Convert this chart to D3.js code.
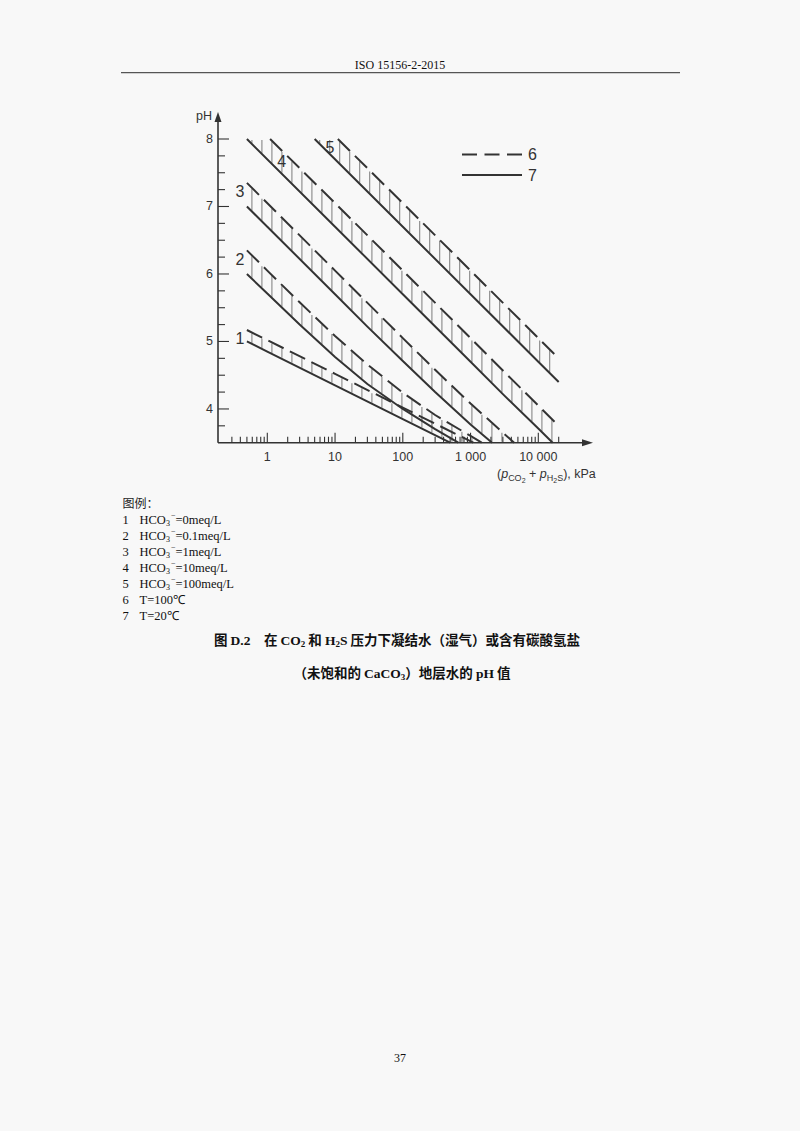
<!DOCTYPE html>
<html><head><meta charset="utf-8">
<script src="https://cdn.jsdelivr.net/npm/d3@7"></script>
<style>
body{margin:0;background:#f8f8f8;}
svg{display:block;}
</style></head><body>
<svg id="c" width="800" height="1131"></svg>
<script>
// ---------- data ----------
const curveIds = ["1", "2", "3", "4", "5"];
// pH at T = 20 °C (solid), points [p kPa, pH]
const solid20 = [
  [[0.5,5.0],[1,4.85],[10,4.35],[100,3.85],[500,3.5]],
  [[0.5,6.0],[1,5.71],[3,5.25],[10,4.77],[30,4.37],[100,4.0],[300,3.7],[660,3.5]],
  [[0.5,7.0],[1,6.7],[10,5.7],[30,5.22],[100,4.71],[300,4.25],[1000,3.77],[2080,3.5]],
  [[0.5,8.0],[10,6.7],[100,5.7],[1000,4.7],[3000,4.22],[10000,3.71],[16300,3.5]],
  [[5,8.0],[100,6.7],[1000,5.7],[10000,4.7],[20000,4.4]]
];
// pH at T = 100 °C (dashed)
const dashed100 = [
  [[0.5,5.17],[10,4.52],[100,4.02],[1100,3.5]],
  [[0.5,6.35],[1,6.05],[3,5.58],[10,5.08],[30,4.66],[100,4.24],[300,3.91],[1000,3.6],[1460,3.5]],
  [[0.5,7.35],[10,6.05],[100,5.05],[300,4.58],[1000,4.08],[3000,3.65],[4400,3.5]],
  [[1.1,8.0],[10,7.05],[100,6.05],[1000,5.05],[3000,4.57],[10000,4.05],[20000,3.75]],
  [[11,8.0],[100,7.05],[1000,6.05],[10000,5.05],[20000,4.75]]
];
const xMajorTicks = [1, 10, 100, 1000, 10000];
const xTickLabels = ["1", "10", "100", "1 000", "10 000"];
const xMinorTicks = [0.3,0.4,0.5,0.6,0.7,0.8,0.9, 2,3,4,5,6,7,8,9, 20,30,40,50,60,70,80,90,
  200,300,400,500,600,700,800,900, 2000,3000,4000,5000,6000,7000,8000,9000, 20000];
const yMajorTicks = [4, 5, 6, 7, 8];
const yMinorTicks = [3.75,4.25,4.5,4.75,5.25,5.5,5.75,6.25,6.5,6.75,7.25,7.5,7.75];
const legendKeys = ["6", "7"];
const legendNotes = [
  ["1", "=0meq/L"], ["2", "=0.1meq/L"], ["3", "=1meq/L"], ["4", "=10meq/L"], ["5", "=100meq/L"]
];
const tempNotes = [["6", "T=100℃"], ["7", "T=20℃"]];

// ---------- drawing ----------
const svg = d3.select("#c");
const ink = "#333";
const sans = "'Liberation Sans', Arial, sans-serif";
const serif = "'Liberation Serif', 'Times New Roman', serif";
const cjk = "'Noto Sans CJK SC', sans-serif";

// header
svg.append("text").attr("x", 400).attr("y", 69).attr("text-anchor", "middle")
  .attr("font-family", serif).attr("font-size", 12).attr("fill", "#111").text("ISO 15156-2-2015");
svg.append("line").attr("x1", 121).attr("x2", 680).attr("y1", 72.7).attr("y2", 72.7)
  .attr("stroke", "#555").attr("stroke-width", 1.3);

const x = d3.scaleLog().domain([1, 10000]).range([267.3, 538.3]);
const y = d3.scaleLinear().domain([3.5, 8]).range([442.7, 139]);
const x0 = 218, yTopAxis = 112, xRightAxis = 593;

const g = svg.append("g");

// hatch rungs
function interp(series, lp) {
  const ls = series.map(d => Math.log10(d[0]));
  if (lp < ls[0] || lp > ls[ls.length - 1]) return null;
  for (let i = 0; i < ls.length - 1; i++) {
    if (lp >= ls[i] && lp <= ls[i + 1]) {
      const t = (lp - ls[i]) / (ls[i + 1] - ls[i]);
      return series[i][1] + t * (series[i + 1][1] - series[i][1]);
    }
  }
  return null;
}
const rungs = g.append("g").attr("stroke", "#8f8f8f").attr("stroke-width", 1.2);
curveIds.forEach((id, i) => {
  const s = solid20[i], d = dashed100[i];
  const xs0 = x(s[0][0]) + 5;
  const xEnd = Math.max(x(s[s.length - 1][0]), x(d[d.length - 1][0])) - 1;
  const dStartL = Math.log10(d[0][0]);
  const sEndL = Math.log10(s[s.length - 1][0]);
  for (let sx = xs0; sx <= xEnd; sx += 10) {
    const lp = Math.log10(x.invert(sx));
    let top = interp(d, lp);
    if (top === null) { if (lp < dStartL) top = 8; else continue; }
    let bot = interp(s, lp);
    if (bot === null) { if (lp > sEndL) bot = 3.5; else continue; }
    top = Math.min(top, 8); bot = Math.max(bot, 3.5);
    if (top - bot < 0.05) continue;
    rungs.append("line").attr("x1", sx).attr("x2", sx)
      .attr("y1", y(top) + 1).attr("y2", y(bot) - 1);
  }
});

// curves
const line = d3.line().x(d => x(d[0])).y(d => y(d[1]));
solid20.forEach(s => g.append("path").attr("d", line(s)).attr("fill", "none")
  .attr("stroke", ink).attr("stroke-width", 2));
dashed100.forEach(s => g.append("path").attr("d", line(s)).attr("fill", "none")
  .attr("stroke", ink).attr("stroke-width", 2).attr("stroke-dasharray", "17,7"));

// curve labels
const lab = (t, px, py) => g.append("text").attr("x", px).attr("y", py).attr("text-anchor", "middle")
  .attr("dominant-baseline", "central").attr("font-family", sans).attr("font-size", 16)
  .attr("fill", ink).text(t);
[0, 1, 2].forEach(i => lab(curveIds[i], x(dashed100[i][0][0]) - 7, y(dashed100[i][0][1]) + 9));
lab(curveIds[3], x(1.63), y(7.66));
lab(curveIds[4], x(8.4), y(7.88));

// axes
const axis = g.append("g").attr("stroke", ink).attr("stroke-width", 1.6);
axis.append("line").attr("x1", x0).attr("x2", x0).attr("y1", y(3.5)).attr("y2", yTopAxis + 6);
axis.append("line").attr("x1", x0).attr("x2", xRightAxis - 6).attr("y1", y(3.5)).attr("y2", y(3.5));
g.append("path").attr("d", `M${x0},${yTopAxis} L${x0 - 3.5},${yTopAxis + 10} L${x0 + 3.5},${yTopAxis + 10}Z`).attr("fill", ink);
g.append("path").attr("d", `M${xRightAxis},${y(3.5)} L${xRightAxis - 11},${y(3.5) - 3.5} L${xRightAxis - 11},${y(3.5) + 3.5}Z`).attr("fill", ink);

const tk = g.append("g").attr("stroke", ink).attr("stroke-width", 1.1);
yMajorTicks.forEach(v => tk.append("line").attr("x1", x0).attr("x2", x0 + 11).attr("y1", y(v)).attr("y2", y(v)));
yMinorTicks.forEach(v => tk.append("line").attr("x1", x0).attr("x2", x0 + 7).attr("y1", y(v)).attr("y2", y(v)));
xMajorTicks.forEach(v => tk.append("line").attr("x1", x(v)).attr("x2", x(v)).attr("y1", y(3.5)).attr("y2", y(3.5) - 10));
xMinorTicks.forEach(v => tk.append("line").attr("x1", x(v)).attr("x2", x(v)).attr("y1", y(3.5)).attr("y2", y(3.5) - 6));

yMajorTicks.forEach(v => g.append("text").attr("x", x0 - 5).attr("y", y(v)).attr("text-anchor", "end")
  .attr("dominant-baseline", "central").attr("font-family", sans).attr("font-size", 12.5).attr("fill", ink).text(v));
xMajorTicks.forEach((v, i) => g.append("text").attr("x", x(v)).attr("y", 461).attr("text-anchor", "middle")
  .attr("font-family", sans).attr("font-size", 12.5).attr("fill", ink).text(xTickLabels[i]));
g.append("text").attr("x", 196).attr("y", 120).attr("font-family", sans).attr("font-size", 12.5)
  .attr("fill", ink).text("pH");

// x axis title
const xt = g.append("text").attr("x", 497).attr("y", 478).attr("font-family", sans)
  .attr("font-size", 12.5).attr("fill", ink);
xt.append("tspan").text("(");
xt.append("tspan").attr("font-style", "italic").text("p");
xt.append("tspan").attr("dy", 3).attr("font-size", 9).text("CO");
xt.append("tspan").attr("dy", 2).attr("font-size", 7).text("2");
xt.append("tspan").attr("dy", -5).text(" + ");
xt.append("tspan").attr("font-style", "italic").text("p");
xt.append("tspan").attr("dy", 3).attr("font-size", 9).text("H");
xt.append("tspan").attr("dy", 2).attr("font-size", 7).text("2");
xt.append("tspan").attr("dy", -2).attr("font-size", 9).text("S");
xt.append("tspan").attr("dy", -3).text("), kPa");

// legend keys
const lx1 = 462, lx2 = 522;
[154.5, 175].forEach((ly, i) => {
  g.append("line").attr("x1", lx1).attr("x2", lx2).attr("y1", ly).attr("y2", ly)
    .attr("stroke", ink).attr("stroke-width", 2)
    .attr("stroke-dasharray", i === 0 ? "15,7.5" : null);
  g.append("text").attr("x", 528).attr("y", ly).attr("dominant-baseline", "central")
    .attr("font-family", sans).attr("font-size", 16).attr("fill", ink).text(legendKeys[i]);
});

// notes under figure
const nx = 122.5, tx = 139.5, ny0 = 508, dy = 16;
svg.append("text").attr("x", nx).attr("y", ny0).attr("font-family", cjk).attr("font-size", 12)
  .attr("fill", "#222").text("图例：");
legendNotes.forEach((n, i) => {
  const yy = ny0 + dy * (i + 1);
  svg.append("text").attr("x", nx).attr("y", yy).attr("font-family", serif).attr("font-size", 12.5)
    .attr("fill", "#111").text(n[0]);
  const t = svg.append("text").attr("x", tx).attr("y", yy).attr("font-family", serif)
    .attr("font-size", 12.5).attr("fill", "#111");
  t.append("tspan").text("HCO");
  t.append("tspan").attr("dy", 2).attr("font-size", 8).text("3");
  t.append("tspan").attr("dy", -8).attr("font-size", 8).attr("dx", 1).text("−");
  t.append("tspan").attr("dy", 6).text(n[1]);
});
tempNotes.forEach((n, i) => {
  const yy = ny0 + dy * (i + 6);
  svg.append("text").attr("x", nx).attr("y", yy).attr("font-family", serif).attr("font-size", 12.5)
    .attr("fill", "#111").text(n[0]);
  svg.append("text").attr("x", tx).attr("y", yy).attr("font-family", serif).attr("font-size", 12.5)
    .attr("fill", "#111").text(n[1]);
});

// caption
const cap1 = svg.append("text").attr("x", 397).attr("y", 644.5).attr("text-anchor", "middle")
  .attr("font-size", 13.5).attr("font-weight", "bold").attr("fill", "#111");
const bs = (sel, t, f) => sel.append("tspan").attr("font-family", f).text(t);
bs(cap1, "图 ", cjk); bs(cap1, "D.2", serif); bs(cap1, "　在 ", cjk); bs(cap1, "CO", serif);
cap1.append("tspan").attr("font-family", serif).attr("font-size", 9).attr("dy", 2).text("2");
cap1.append("tspan").attr("font-family", cjk).attr("dy", -2).text(" 和 ");
bs(cap1, "H", serif);
cap1.append("tspan").attr("font-family", serif).attr("font-size", 9).attr("dy", 2).text("2");
cap1.append("tspan").attr("font-family", serif).attr("dy", -2).text("S");
bs(cap1, " 压力下凝结水（湿气）或含有碳酸氢盐", cjk);

const cap2 = svg.append("text").attr("x", 402).attr("y", 677.5).attr("text-anchor", "middle")
  .attr("font-size", 13.5).attr("font-weight", "bold").attr("fill", "#111");
bs(cap2, "（未饱和的 ", cjk); bs(cap2, "CaCO", serif);
cap2.append("tspan").attr("font-family", serif).attr("font-size", 9).attr("dy", 2).text("3");
cap2.append("tspan").attr("font-family", cjk).attr("dy", -2).text("）地层水的 ");
bs(cap2, "pH", serif); bs(cap2, " 值", cjk);

// page number
svg.append("text").attr("x", 400).attr("y", 1062).attr("text-anchor", "middle")
  .attr("font-family", serif).attr("font-size", 12).attr("fill", "#111").text("37");
</script>
</body></html>
